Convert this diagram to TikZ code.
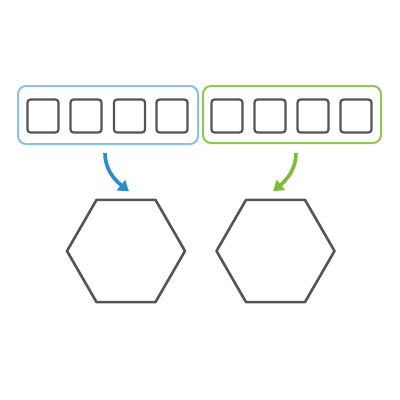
\documentclass[tikz,border=0pt]{standalone}
\usetikzlibrary{shapes.geometric,arrows.meta,bending}
\definecolor{boxblue}{HTML}{8CC0E6}
\definecolor{boxgreen}{HTML}{92C653}
\definecolor{arrblue}{HTML}{2E8BC8}
\definecolor{arrgreen}{HTML}{80BC3C}
\definecolor{ink}{HTML}{555555}
\begin{document}
\begin{tikzpicture}[x=1pt,y=-1pt,
  cell/.style={draw=ink,line width=2.2pt,rounded corners=3pt,minimum width=31pt,minimum height=33pt,inner sep=0pt},
  group/.style={line width=2pt,rounded corners=8pt,inner sep=0pt},
  hexa/.style={draw=ink,line width=2.6pt,line join=round,regular polygon,regular polygon sides=6,minimum size=118pt,inner sep=0pt},
  flow/.style={line width=3.6pt,-{Triangle[length=10pt,width=13pt,bend]}}]
\useasboundingbox[fill=white] (0,0) rectangle (400,400);
\node[group,draw=boxblue,minimum width=180pt,minimum height=58pt] (bbox) at (108,115) {};
\node[group,draw=boxgreen,minimum width=178pt,minimum height=57pt] (gbox) at (292,114.5) {};
\node[cell] (b1) at (43,116) {};
\node[cell] (b2) at (86,116) {};
\node[cell] (b3) at (129.5,116) {};
\node[cell] (b4) at (172,116) {};
\node[cell] (g1) at (227,116) {};
\node[cell] (g2) at (270,116) {};
\node[cell] (g3) at (313,116) {};
\node[cell] (g4) at (356,116) {};
\node[hexa] (h1) at (126,251) {};
\node[hexa] (h2) at (275.5,251) {};
\coordinate (sa) at (105,153);
\coordinate (ea) at (129,191);
\coordinate (sb) at (296,153);
\coordinate (eb) at (273,191);
\draw[flow,draw=arrblue] (sa) .. controls (105,170) and (115,182) .. (ea);
\draw[flow,draw=arrgreen] (sb) .. controls (296,170) and (286,182) .. (eb);
\end{tikzpicture}
\end{document}
